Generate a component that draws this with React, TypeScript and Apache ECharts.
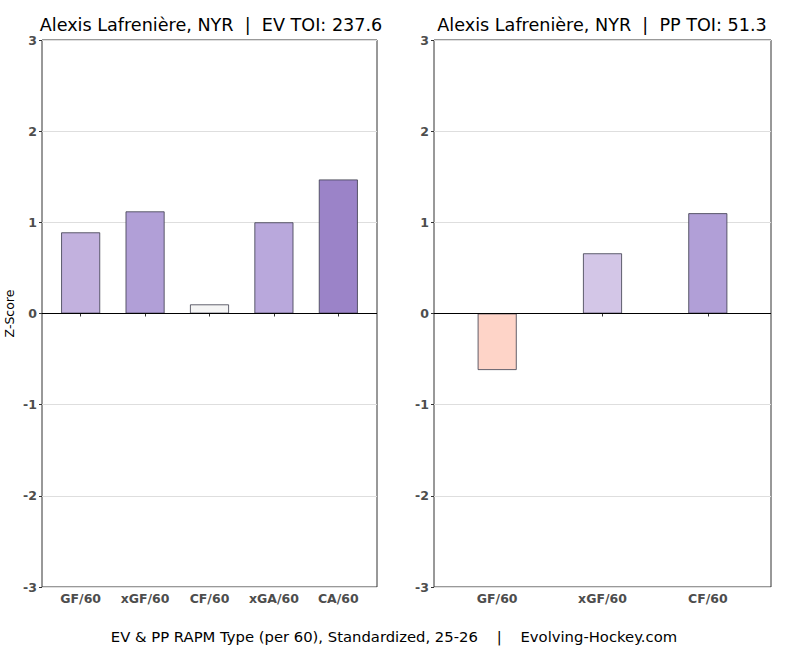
import React, { useEffect, useRef } from "react";
import * as echarts from "echarts";

const evCategories = ["GF/60", "xGF/60", "CF/60", "xGA/60", "CA/60"];
const evValues = [0.89, 1.12, 0.1, 1.0, 1.47];
const evColors = ["#c2b1de", "#b19fd7", "#f5f5f5", "#b9a8dc", "#9b83c8"];

const ppCategories = ["GF/60", "xGF/60", "CF/60"];
const ppValues = [-0.62, 0.66, 1.1];
const ppColors = ["#fed4c8", "#d3c6e7", "#b19fd7"];

const leftTitle = "Alexis Lafrenière, NYR  |  EV TOI: 237.6";
const rightTitle = "Alexis Lafrenière, NYR  |  PP TOI: 51.3";
const caption = "EV & PP RAPM Type (per 60), Standardized, 25-26    |    Evolving-Hockey.com";

export default function App() {
  const ref = useRef<HTMLDivElement>(null);
  useEffect(() => {
    const chart = echarts.init(ref.current!, null, { renderer: "svg" });
    const font = "DejaVu Sans";
    const top = 40;
    const height = 547;
    const panels = [
      { left: 42, width: 335, n: evCategories.length },
      { left: 434, width: 337, n: ppCategories.length },
    ];
    // ggplot-like discrete expansion (0.6 units on each side)
    const inner = panels.map((p) => {
      const unit = p.width / (p.n + 0.2);
      return { left: p.left + 0.1 * unit, width: p.n * unit };
    });
    const mkXOuter = (idx: number) => ({
      type: "value",
      gridIndex: idx,
      min: 0,
      max: 1,
      show: false,
    });
    const mkXInner = (idx: number, cats: string[]) => ({
      type: "category",
      gridIndex: idx,
      data: cats,
      axisLine: { show: false },
      axisTick: { show: true, alignWithLabel: true, length: 3, lineStyle: { color: "#333" } },
      axisLabel: { color: "#4d4d4d", fontWeight: "bold", fontSize: 12.5, fontFamily: font, margin: 5, interval: 0 },
      splitLine: { show: false },
    });
    const mkYOuter = (idx: number, name: string) => ({
      type: "value",
      gridIndex: idx,
      min: -3,
      max: 3,
      interval: 1,
      name,
      nameLocation: "middle",
      nameGap: 26,
      nameTextStyle: { color: "#000", fontSize: 12.5, fontFamily: font },
      axisLine: { show: false },
      axisTick: { show: true, length: 3, lineStyle: { color: "#333" } },
      axisLabel: {
        color: "#4d4d4d",
        fontWeight: "bold",
        fontSize: 12.5,
        fontFamily: font,
        margin: 5,
      },
      splitLine: { show: true, lineStyle: { color: "#dedede", width: 1 } },
    });
    const mkYInner = (idx: number) => ({
      type: "value",
      gridIndex: idx,
      min: -3,
      max: 3,
      interval: 1,
      show: false,
    });
    const mkSeries = (idx: number, vals: number[], cols: string[]) => ({
      type: "bar",
      xAxisIndex: idx,
      yAxisIndex: idx,
      barWidth: 39,
      data: vals.map((v, i) => ({
        value: v,
        itemStyle: { color: cols[i], borderColor: "#3a3a4a", borderWidth: 0.8 },
      })),
    });
    const zeroLine = (idx: number) => ({
      type: "line",
      xAxisIndex: idx,
      yAxisIndex: idx,
      data: [],
      silent: true,
      markLine: {
        silent: true,
        symbol: "none",
        label: { show: false },
        lineStyle: { color: "#000", width: 1, type: "solid" },
        data: [{ yAxis: 0 }],
        z: 10,
      },
      z: 10,
    });
    chart.setOption({
      animation: false,
      backgroundColor: "#fff",
      textStyle: { fontFamily: font },
      title: [
        {
          text: leftTitle,
          left: 206,
          top: 11,
          textAlign: "center",
          textStyle: { fontSize: 17.6, fontWeight: "normal", color: "#000", fontFamily: font },
        },
        {
          text: rightTitle,
          left: 597,
          top: 11,
          textAlign: "center",
          textStyle: { fontSize: 17.6, fontWeight: "normal", color: "#000", fontFamily: font },
        },
        {
          text: caption,
          left: 389,
          top: 624,
          textAlign: "center",
          textStyle: { fontSize: 14.8, fontWeight: "normal", color: "#000", fontFamily: font },
        },
      ],
      grid: [
        { left: panels[0].left, top, width: panels[0].width, height, show: true, borderColor: "#333", borderWidth: 1, backgroundColor: "transparent" },
        { left: panels[1].left, top, width: panels[1].width, height, show: true, borderColor: "#333", borderWidth: 1, backgroundColor: "transparent" },
        { left: inner[0].left, top, width: inner[0].width, height },
        { left: inner[1].left, top, width: inner[1].width, height },
      ],
      xAxis: [mkXOuter(0), mkXOuter(1), mkXInner(2, evCategories), mkXInner(3, ppCategories)],
      yAxis: [mkYOuter(0, "Z-Score"), mkYOuter(1, ""), mkYInner(2), mkYInner(3)],
      series: [
        mkSeries(2, evValues, evColors),
        mkSeries(3, ppValues, ppColors),
        zeroLine(0),
        zeroLine(1),
      ],
    });
    return () => chart.dispose();
  }, []);
  return (
    <div
      ref={ref}
      style={{ position: "absolute", left: 0, top: 0, width: 788, height: 649 }}
    />
  );
}
